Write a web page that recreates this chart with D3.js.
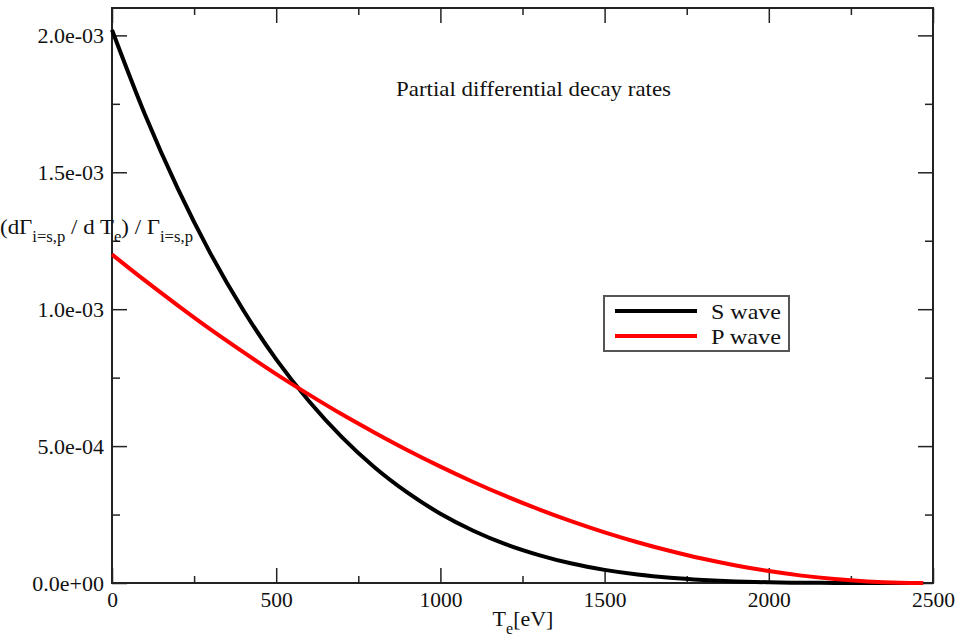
<!DOCTYPE html>
<html><head><meta charset="utf-8">
<script src="https://cdn.jsdelivr.net/npm/d3@7/dist/d3.min.js"></script>
<style>
html,body{margin:0;padding:0;background:#fff;}
svg{display:block;font-family:"Liberation Serif","DejaVu Serif",serif;}
</style></head>
<body><svg id="chart" width="958" height="641"></svg>
<script>
// ---- data ----
const energies = [0,100,200,300,400,500,600,700,800,900,1000,1100,1200,1300,1400,1500,1600,1700,1800,1900,2000,2100,2200,2300,2400,2470];
const sWave = [2.020e-3,1.712e-3,1.441e-3,1.203e-3,0.996e-3,0.817e-3,0.664e-3,0.533e-3,0.422e-3,0.330e-3,0.253e-3,0.191e-3,0.141e-3,0.102e-3,0.071e-3,0.048e-3,0.031e-3,0.019e-3,0.011e-3,0.0057e-3,0.0026e-3,0.0010e-3,0.0003e-3,0.0000e-3,0.0,0.0];
const pWave = [1.200e-3,1.105e-3,1.014e-3,0.926e-3,0.843e-3,0.763e-3,0.688e-3,0.616e-3,0.549e-3,0.485e-3,0.425e-3,0.369e-3,0.317e-3,0.269e-3,0.225e-3,0.185e-3,0.149e-3,0.117e-3,0.0883e-3,0.0639e-3,0.0435e-3,0.0269e-3,0.0143e-3,0.0057e-3,0.0010e-3,0.0];
const seriesNames = ["S wave","P wave"];
const seriesColors = ["#000000","#ff0000"];
const xTicks = [0,500,1000,1500,2000,2500];
const xMinorTicks = [250,750,1250,1750,2250];
const yTicks = [0,5e-4,1e-3,1.5e-3,2e-3];
const yTickLabels = ["0.0e+00","5.0e-04","1.0e-03","1.5e-03","2.0e-03"];
const yMinorTicks = [2.5e-4,7.5e-4,1.25e-3,1.75e-3];
const title = "Partial differential decay rates";

// ---- layout ----
const svg = d3.select("#chart");
const L = 112, R = 933, T = 8, B = 583;
const x = d3.scaleLinear().domain([0,2500]).range([L,R]);
const y = d3.scaleLinear().domain([0,2.1e-3]).range([B,T]);
const axisColor = "#222";

// frame
svg.append("rect").attr("x",L).attr("y",T).attr("width",R-L).attr("height",B-T)
  .attr("fill","none").attr("stroke",axisColor).attr("stroke-width",2);

function styleAxis(size){
  return g=>{
    g.select(".domain").remove();
    g.selectAll(".tick line").attr("stroke",axisColor).attr("stroke-width",1.5);
    g.selectAll("text").attr("fill","#111").style("font-size",size+"px").style("font-family","Liberation Serif");
  };
}
// bottom
svg.append("g").attr("transform",`translate(0,${B})`)
  .call(d3.axisBottom(x).tickValues(xTicks).tickSize(-15).tickPadding(9).tickFormat(d3.format("d"))).call(styleAxis(21.5));
svg.append("g").attr("transform",`translate(0,${B})`)
  .call(d3.axisBottom(x).tickValues(xMinorTicks).tickSize(-7).tickFormat("")).call(styleAxis(21));
// top
svg.append("g").attr("transform",`translate(0,${T})`)
  .call(d3.axisTop(x).tickValues(xTicks).tickSize(-15).tickFormat("")).call(styleAxis(21));
svg.append("g").attr("transform",`translate(0,${T})`)
  .call(d3.axisTop(x).tickValues(xMinorTicks).tickSize(-7).tickFormat("")).call(styleAxis(21));
// left
svg.append("g").attr("transform",`translate(${L},0)`)
  .call(d3.axisLeft(y).tickValues(yTicks).tickSize(-15).tickPadding(8).tickFormat((d,i)=>yTickLabels[i])).call(styleAxis(22));
svg.append("g").attr("transform",`translate(${L},0)`)
  .call(d3.axisLeft(y).tickValues(yMinorTicks).tickSize(-8).tickFormat("")).call(styleAxis(21));
// right
svg.append("g").attr("transform",`translate(${R},0)`)
  .call(d3.axisRight(y).tickValues(yTicks).tickSize(-15).tickFormat("")).call(styleAxis(21));
svg.append("g").attr("transform",`translate(${R},0)`)
  .call(d3.axisRight(y).tickValues(yMinorTicks).tickSize(-8).tickFormat("")).call(styleAxis(21));

// curves
const line = d3.line().x(d=>x(d[0])).y(d=>y(d[1])).curve(d3.curveMonotoneX);
[sWave,pWave].forEach((vals,i)=>{
  svg.append("path").datum(energies.map((e,j)=>[e,vals[j]]))
    .attr("d",line).attr("fill","none").attr("stroke",seriesColors[i])
    .attr("stroke-width",4).attr("stroke-linejoin","round");
});

// title
svg.append("text").attr("x",396).attr("y",96)
  .attr("textLength",275).attr("lengthAdjust","spacingAndGlyphs")
  .style("font-size","21px").attr("fill","#111").text(title);

// legend
const lg = svg.append("g");
lg.append("rect").attr("x",604).attr("y",296).attr("width",185).attr("height",55)
  .attr("fill","#fff").attr("stroke","#555").attr("stroke-width",2);
seriesNames.forEach((n,i)=>{
  const yy = 311 + i*25;
  lg.append("line").attr("x1",615).attr("x2",697).attr("y1",yy).attr("y2",yy)
    .attr("stroke",seriesColors[i]).attr("stroke-width",4);
  lg.append("text").attr("x",711).attr("y",yy+8)
    .attr("textLength",70).attr("lengthAdjust","spacingAndGlyphs")
    .style("font-size","22px").attr("fill","#111").text(n);
});

// y label
const yl = svg.append("text").attr("x",0).attr("y",234).style("font-size","22px").attr("fill","#111")
  .attr("textLength",193).attr("lengthAdjust","spacingAndGlyphs");
yl.append("tspan").text("(dΓ");
yl.append("tspan").attr("dy",8).style("font-size","16px").text("i=s,p");
yl.append("tspan").attr("dy",-8).text(" / d T");
yl.append("tspan").attr("dy",8).style("font-size","16px").text("e");
yl.append("tspan").attr("dy",-8).text(") / Γ");
yl.append("tspan").attr("dy",8).style("font-size","16px").text("i=s,p");

// x label
const xl = svg.append("text").attr("x",523).attr("y",626).attr("text-anchor","middle").style("font-size","22px").attr("fill","#111");
xl.append("tspan").text("T");
xl.append("tspan").attr("dy",8).style("font-size","16px").text("e");
xl.append("tspan").attr("dy",-8).text("[eV]");
</script></body></html>
